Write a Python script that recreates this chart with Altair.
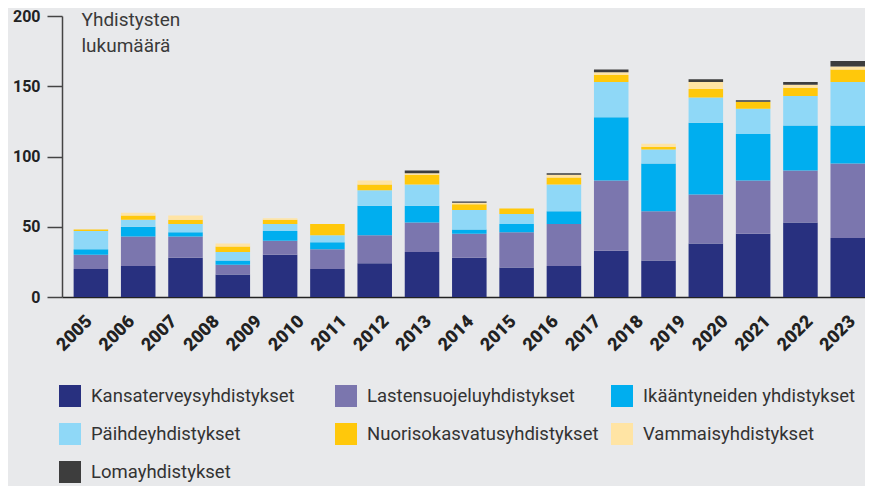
import altair as alt
import pandas as pd

# 17 drawn bars; the printed axis carries 19 year labels (as in the source)
bar_slots = list(range(17))
year_labels = [str(y) for y in range(2005, 2024)]

categories = [
    "Kansaterveysyhdistykset",
    "Lastensuojeluyhdistykset",
    "Ikääntyneiden yhdistykset",
    "Päihdeyhdistykset",
    "Nuorisokasvatusyhdistykset",
    "Vammaisyhdistykset",
    "Lomayhdistykset",
]
colors = ["#28307f", "#7b76ae", "#00aeef", "#8fd8f7", "#ffc80b", "#ffe4a4", "#3d3d3d"]

kansaterveys = [20, 22, 28, 16, 30, 20, 24, 32, 28, 21, 22, 33, 26, 38, 45, 53, 42]
lastensuojelu = [10, 21, 15, 7, 10, 14, 20, 21, 17, 25, 30, 50, 35, 35, 38, 37, 53]
ikaantyneet = [4, 7, 3, 3, 7, 5, 21, 12, 3, 6, 9, 45, 34, 51, 33, 32, 27]
paihde = [13, 5, 6, 6, 5, 5, 11, 15, 14, 7, 19, 25, 10, 18, 18, 21, 31]
nuorisokasvatus = [1, 3, 3, 4, 3, 8, 4, 7, 4, 4, 5, 5, 2, 6, 5, 6, 9]
vammais = [0, 2, 3, 2, 1, 0, 3, 1, 1, 0, 2, 2, 2, 5, 0, 2, 2]
loma = [0, 0, 0, 0, 0, 0, 0, 2, 1, 0, 1, 2, 0, 2, 1, 2, 4]

series = [kansaterveys, lastensuojelu, ikaantyneet, paihde, nuorisokasvatus, vammais, loma]

rows = []
for k, (cat, vals) in enumerate(zip(categories, series)):
    for slot, v in zip(bar_slots, vals):
        rows.append({"slot": slot, "category": cat, "k": k, "value": v})
df = pd.DataFrame(rows)
years_df = pd.DataFrame({"year": year_labels})

TEXT_FONT = "Roboto"
NUM_FONT = "Roboto"

bars = alt.Chart(df).mark_bar().encode(
    x=alt.X(
        "slot:O",
        axis=None,
        scale=alt.Scale(paddingInner=0.27, paddingOuter=0.123, align=1),
    ),
    y=alt.Y(
        "value:Q",
        stack="zero",
        scale=alt.Scale(domain=[0, 200], nice=False),
        axis=alt.Axis(
            values=[0, 50, 100, 150, 200],
            grid=False,
            tickSize=15,
            tickWidth=1.5,
            tickColor="#444444",
            domainColor="#444444",
            domainWidth=1.5,
            labelFont=NUM_FONT,
            labelFontSize=16,
            labelFontWeight="bold",
            labelColor="#222222",
            labelPadding=7,
            title=["Yhdistysten", "lukumäärä"],
            titleAngle=0,
            titleAlign="left",
            titleBaseline="alphabetic",
            titleX=19,
            titleY=9,
            titleFont="Roboto",
            titleFontSize=19,
            titleFontWeight="normal",
            titleColor="#3a3a3a",
            titleLineHeight=26,
        ),
    ),
    color=alt.Color(
        "category:N",
        title=None,
        scale=alt.Scale(domain=categories, range=colors),
        legend=alt.Legend(
            orient="none",
            direction="horizontal",
            legendX=-3,
            legendY=369,
            columns=3,
            gridAlign="all",
            symbolType="square",
            symbolSize=484,
            symbolStrokeWidth=0,
            labelFont=TEXT_FONT,
            labelFontSize=18.5,
            labelColor="#333333",
            labelOffset=10,
            labelLimit=400,
            columnPadding=12,
            rowPadding=16,
            padding=0,
        ),
    ),
    order=alt.Order("k:Q", sort="ascending"),
)

labels = alt.Chart(years_df).mark_point(opacity=0).encode(
    x=alt.X(
        "year:O",
        title=None,
        scale=alt.Scale(type="point", padding=0.47, align=0.52),
        axis=alt.Axis(
            orient="bottom",
            labelAngle=315,
            labelAlign="right",
            labelBaseline="top",
            labelFont=NUM_FONT,
            labelFontSize=18,
            labelFontWeight=900,
            labelColor="#222222",
            labelOverlap=False,
            labelPadding=15,
            ticks=False,
            domainColor="#222222",
            domainWidth=1.5,
        ),
    ),
    y=alt.value(0),
)

chart = (
    alt.layer(bars, labels)
    .resolve_scale(x="independent")
    .properties(
        width=803,
        height=281,
        autosize=alt.AutoSizeParams(type="none"),
        padding={"left": 54, "top": 8, "right": 0, "bottom": 189},
        background="#e8e9eb",
    )
    .configure_view(strokeWidth=0)
)

chart.save("out.html", embed_options={"renderer": "svg", "actions": False})
